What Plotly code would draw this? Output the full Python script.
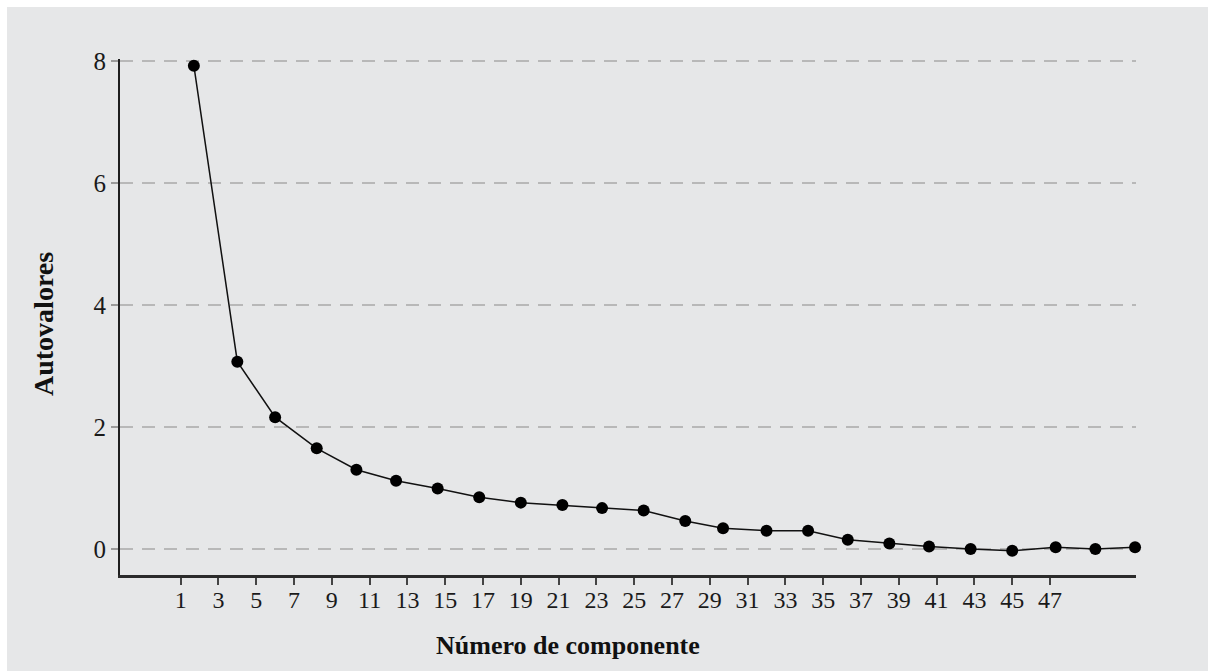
import plotly.graph_objects as go

# Data
comp_x = [1.7, 4.0, 6.0, 8.2, 10.3, 12.4, 14.6, 16.8, 19.0, 21.2, 23.3, 25.5,
          27.7, 29.7, 32.0, 34.2, 36.3, 38.5, 40.6, 42.8, 45.0, 47.3, 49.4, 51.5]
eigenvalues = [7.92, 3.07, 2.16, 1.65, 1.30, 1.12, 0.99, 0.85, 0.76, 0.72, 0.67, 0.63,
               0.46, 0.34, 0.30, 0.30, 0.15, 0.09, 0.04, 0.00, -0.03, 0.03, 0.00, 0.03]
x_ticks = list(range(1, 48, 2))
x_tick_labels = [str(v) for v in x_ticks]
y_ticks = [0, 2, 4, 6, 8]
y_tick_labels = [str(v) for v in y_ticks]

x_title = "Número de componente"
y_title = "Autovalores"

W, H = 1208, 671
ML, MR, MT, MB = 120, 72, 59, 96
PW, PH = W - ML - MR, H - MT - MB
BG = "#e6e7e8"
FONT = "Liberation Serif, Times New Roman, serif"


def px_to_paper_x(px):
    return (px - ML) / PW


def px_to_paper_y(py):
    return (H - MB - py) / PH


fig = go.Figure()
fig.add_trace(go.Scatter(
    x=comp_x, y=eigenvalues, mode="lines+markers",
    line=dict(color="#111111", width=1.5),
    marker=dict(color="#000000", size=12),
    cliponaxis=False, showlegend=False,
))

fig.update_layout(
    width=W, height=H,
    margin=dict(l=ML, r=MR, t=MT, b=MB, pad=0),
    paper_bgcolor=BG, plot_bgcolor=BG,
    font=dict(family=FONT, color="#1a1a1a"),
    xaxis=dict(
        range=[-2.208, 51.55], tickmode="array", tickvals=x_ticks, ticktext=x_tick_labels,
        showgrid=False, zeroline=False, showline=True, linecolor="#2b2b2b", linewidth=2.5,
        ticks="outside", ticklen=7, tickwidth=2, tickcolor="#444444",
        ticklabelstandoff=-6,
        tickfont=dict(size=24, family=FONT, color="#1a1a1a"),
    ),
    yaxis=dict(
        range=[-0.426, 8.03], tickmode="array", tickvals=y_ticks, ticktext=y_tick_labels,
        showgrid=True, gridcolor="#b8b8b8", gridwidth=2, griddash="13px,9px",
        zeroline=False, showline=True, linecolor="#1e1e1e", linewidth=2,
        ticks="outside", ticklen=7, tickwidth=2, tickcolor="#9a9a9a",
        tickfont=dict(size=25, family=FONT, color="#1a1a1a"),
    ),
    annotations=[
        dict(text="<b>" + x_title + "</b>", xref="paper", yref="paper",
             x=px_to_paper_x(568), y=px_to_paper_y(645), xanchor="center", yanchor="middle",
             showarrow=False, font=dict(size=26, family=FONT, color="#111111")),
        dict(text="<b>" + y_title + "</b>", xref="paper", yref="paper",
             x=px_to_paper_x(43), y=px_to_paper_y(324), xanchor="center", yanchor="middle",
             textangle=-90, showarrow=False, font=dict(size=28, family=FONT, color="#111111")),
    ],
    shapes=[
        dict(type="rect", xref="paper", yref="paper",
             x0=px_to_paper_x(0), x1=px_to_paper_x(W), y0=px_to_paper_y(7), y1=px_to_paper_y(0),
             fillcolor="white", line=dict(width=0), layer="above"),
        dict(type="rect", xref="paper", yref="paper",
             x0=px_to_paper_x(0), x1=px_to_paper_x(7), y0=px_to_paper_y(H), y1=px_to_paper_y(0),
             fillcolor="white", line=dict(width=0), layer="above"),
    ],
)

fig.write_html(
    "out.html",
    config={"displayModeBar": False},
    post_script="document.body.style.margin='0';document.body.style.overflow='hidden';",
)
